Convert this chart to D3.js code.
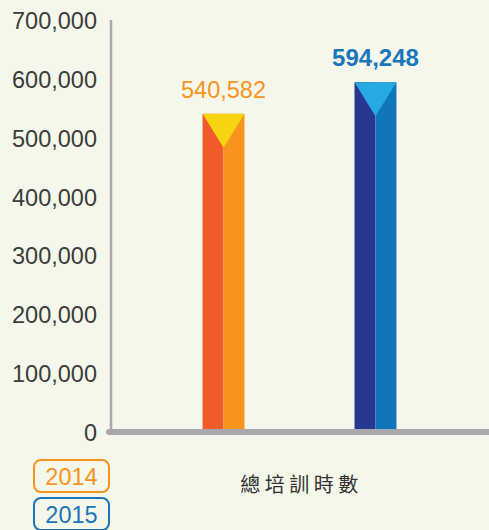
<!DOCTYPE html>
<html>
<head>
<meta charset="utf-8">
<script src="https://cdn.jsdelivr.net/npm/d3@7"></script>
<style>
  body { margin: 0; background: #f5f7ea; }
  svg { display: block; }
</style>
</head>
<body>
<script>
// chart data
var categories = ["總培訓時數"];
var years = ["2014", "2015"];
var hours = [540582, 594248];
var yTicks = [0, 100000, 200000, 300000, 400000, 500000, 600000, 700000];

// colours per year: left half, right half, top triangle, label
var leftColors = ["#f15a2b", "#283891"];
var rightColors = ["#f7941d", "#1175bb"];
var capColors = ["#f6d40f", "#27aae1"];
var labelColors = ["#f7941d", "#1b75bb"];

window.onload = function() { drawChart(); };

function drawChart() {
  var w = 489, h = 530;

  var svg = d3.select("body")
              .append("svg")
              .attr("width", w)
              .attr("height", h);

  svg.append("rect")
      .attr("width", w)
      .attr("height", h)
      .attr("fill", "#f5f7ea");

  // scales
  var yScale = d3.scaleLinear()
                  .domain([0, 700000])
                  .range([432, 20]);

  var xScale = d3.scaleBand()
                  .domain(categories)
                  .range([110, 489]);

  var xInner = d3.scaleBand()
                  .domain(years)
                  .range([0, xScale.bandwidth()])
                  .paddingInner(0.724)
                  .paddingOuter(0.609);

  // y axis tick labels
  var yAxis = d3.axisLeft(yScale)
                .tickValues(yTicks)
                .tickSize(0)
                .tickPadding(0)
                .tickFormat(d3.format(","));

  var gy = svg.append("g")
      .attr("transform", "translate(97,0)")
      .call(yAxis);
  gy.select(".domain").remove();
  gy.selectAll("text")
      .attr("fill", "#3c3c3c")
      .style("font-family", "'Liberation Sans', Arial, sans-serif")
      .style("font-size", "23.5px")
      .attr("dy", "0.36em");

  // vertical axis line
  svg.append("line")
      .attr("x1", 111)
      .attr("x2", 111)
      .attr("y1", yScale(700000))
      .attr("y2", yScale(0))
      .attr("stroke", "#a7a9ac")
      .attr("stroke-width", 2.5);

  // bars
  var bars = svg.selectAll(".bar")
      .data(years)
      .enter().append("g")
      .attr("class", "bar")
      .attr("transform", function(d) {
        return "translate(" + (xScale(categories[0]) + xInner(d)) + ",0)";
      });

  var bw = xInner.bandwidth();

  bars.append("rect")
      .attr("x", 0)
      .attr("y", function(d, i) { return yScale(hours[i]); })
      .attr("width", bw / 2)
      .attr("height", function(d, i) { return yScale(0) - yScale(hours[i]); })
      .attr("fill", function(d, i) { return leftColors[i]; });

  bars.append("rect")
      .attr("x", bw / 2)
      .attr("y", function(d, i) { return yScale(hours[i]); })
      .attr("width", bw / 2)
      .attr("height", function(d, i) { return yScale(0) - yScale(hours[i]); })
      .attr("fill", function(d, i) { return rightColors[i]; });

  // triangle cap on top of each bar
  bars.append("path")
      .attr("d", function(d, i) {
        var top = yScale(hours[i]);
        return "M0," + top + "L" + bw + "," + top + "L" + (bw / 2) + "," + (top + 34) + "Z";
      })
      .attr("fill", function(d, i) { return capColors[i]; });

  // value labels
  bars.append("text")
      .attr("x", bw / 2)
      .attr("y", function(d, i) { return yScale(hours[i]) - 16; })
      .attr("text-anchor", "middle")
      .style("font-family", "'Liberation Sans', Arial, sans-serif")
      .style("font-size", function(d, i) { return i == 1 ? "24px" : "23.5px"; })
      .style("font-weight", function(d, i) { return i == 1 ? "bold" : "normal"; })
      .attr("fill", function(d, i) { return labelColors[i]; })
      .text(function(d, i) { return d3.format(",")(hours[i]); });

  // x axis baseline
  svg.append("line")
      .attr("x1", 109)
      .attr("x2", 495)
      .attr("y1", yScale(0))
      .attr("y2", yScale(0))
      .attr("stroke", "#a7a9ac")
      .attr("stroke-width", 6)
      .attr("stroke-linecap", "round");

  // category label
  svg.append("text")
      .attr("x", xScale(categories[0]) + xScale.bandwidth() / 2 + 2)
      .attr("y", 492)
      .attr("text-anchor", "middle")
      .style("font-family", "'Noto Sans CJK TC', sans-serif")
      .style("font-size", "20px")
      .style("letter-spacing", "4.5px")
      .attr("fill", "#333")
      .text(categories[0]);

  // legend
  var legend = svg.selectAll(".legend")
      .data(years)
      .enter().append("g")
      .attr("class", "legend")
      .attr("transform", function(d, i) { return "translate(34," + (460 + i * 38) + ")"; });

  legend.append("rect")
      .attr("width", 75)
      .attr("height", 32)
      .attr("rx", 7)
      .attr("fill", "none")
      .attr("stroke", function(d, i) { return labelColors[i]; })
      .attr("stroke-width", 2);

  legend.append("text")
      .attr("x", 37.5)
      .attr("y", 24.5)
      .attr("text-anchor", "middle")
      .style("font-family", "'Liberation Sans', Arial, sans-serif")
      .style("font-size", "23.5px")
      .attr("fill", function(d, i) { return labelColors[i]; })
      .text(function(d) { return d; });
}
</script>
</body>
</html>
